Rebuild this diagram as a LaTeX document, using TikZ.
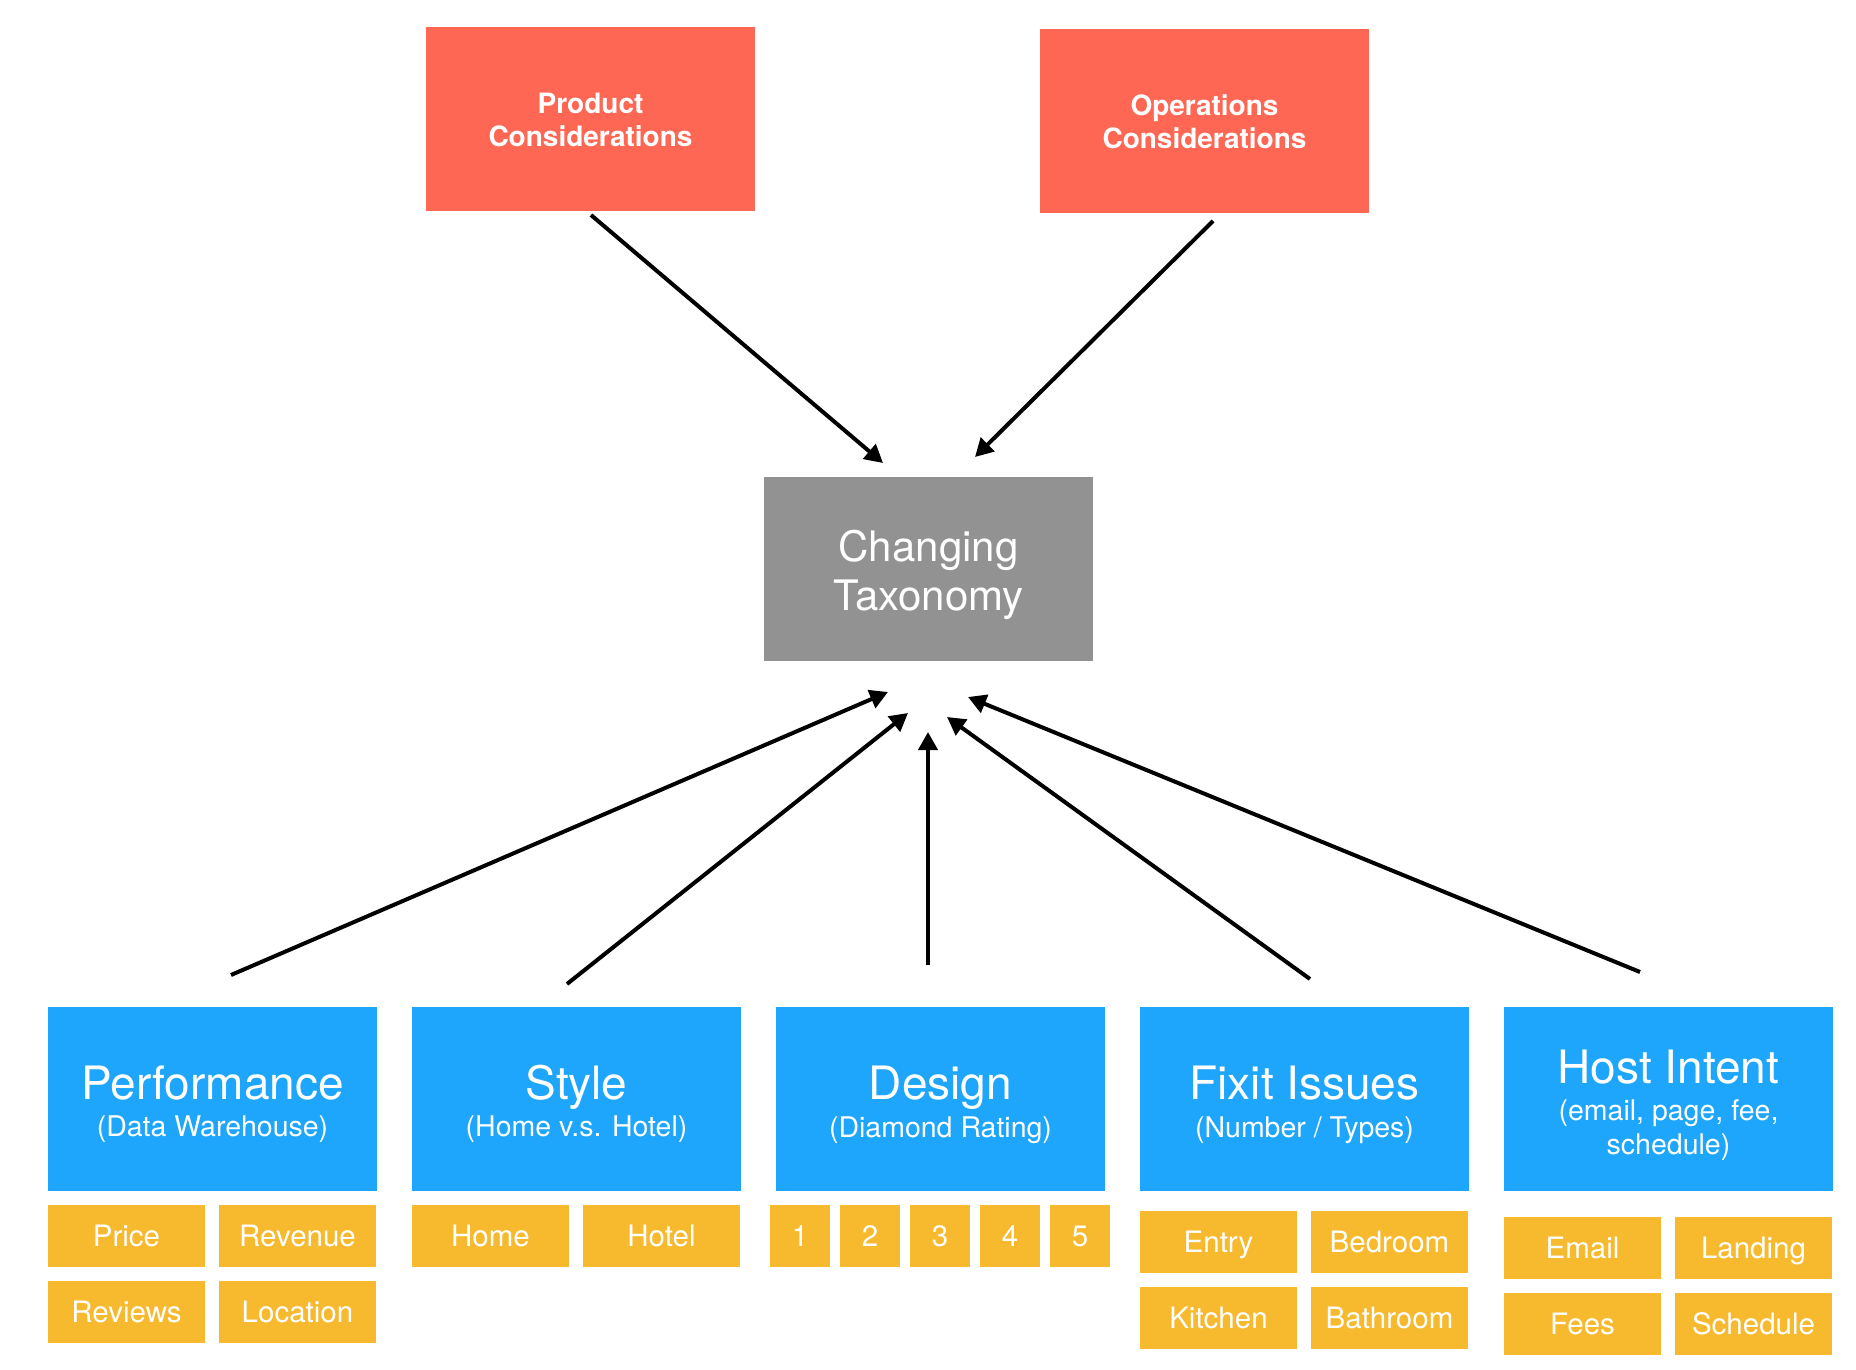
\documentclass[tikz,border=0pt]{standalone}
\usepackage{fontspec}
\setmainfont{TeX Gyre Heros}
\usetikzlibrary{arrows.meta,calc}
\definecolor{redc}{RGB}{255,103,85}
\definecolor{grayc}{RGB}{146,146,146}
\definecolor{bluec}{RGB}{30,165,252}
\definecolor{yelc}{RGB}{247,185,45}
\begin{document}
\begin{tikzpicture}[x=1pt,y=-1pt,
  box/.style={inner sep=0pt, outer sep=0pt, draw=none},
  redbox/.style={box, fill=redc, minimum width=329pt, minimum height=184pt},
  graybox/.style={box, fill=grayc, minimum width=329pt, minimum height=184pt},
  bluebox/.style={box, fill=bluec, minimum width=329pt, minimum height=184pt},
  ybox/.style={box, fill=yelc, minimum width=157pt, minimum height=62pt, text=white,
    font=\fontsize{29.5}{35}\selectfont, text height=21pt, text depth=0pt},
  dbox/.style={ybox, minimum width=60pt},
  txt/.style={anchor=base, inner sep=0pt, text=white},
  redtxt/.style={txt, font=\fontsize{28}{33}\selectfont\bfseries},
  graytxt/.style={txt, font=\fontsize{42}{49}\selectfont},
  titletxt/.style={txt, font=\fontsize{46}{54}\selectfont},
  subtxt/.style={txt, font=\fontsize{28.5}{34}\selectfont},
  arr/.style={line width=4pt, draw=black, -{Triangle[length=18pt,width=19pt]}},
]
\useasboundingbox (0,0) rectangle (1856,1370);

% top boxes
\node[redbox] (prod) at (590.5,119) {};
\node[redtxt] (prod-a) at (590.5,114) {Product};
\node[redtxt] (prod-b) at (590.5,147) {Considerations};
\node[redbox] (ops) at (1204.5,121) {};
\node[redtxt] (ops-a) at (1204.5,116) {Operations};
\node[redtxt] (ops-b) at (1204.5,149) {Considerations};

% center box
\node[graybox] (tax) at (928.5,569) {};
\node[graytxt] (tax-a) at (928.5,561) {Changing};
\node[graytxt] (tax-b) at (928.5,610) {Taxonomy};

% blue boxes
\node[bluebox] (perf) at (212.5,1099) {};
\node[titletxt] (perf-t) at (212.5,1099) {Performance};
\node[subtxt] (perf-s) at (212.5,1136) {(Data Warehouse)};
\node[bluebox] (style) at (576.5,1099) {};
\node[titletxt] (style-t) at (576.5,1099) {Style};
\node[subtxt] (style-s) at (576.5,1136) {(Home v.s. Hotel)};
\node[bluebox] (design) at (940.5,1099) {};
\node[titletxt] (design-t) at (940.5,1099) {Design};
\node[subtxt] (design-s) at (940.5,1137) {(Diamond Rating)};
\node[bluebox] (fixit) at (1304.5,1099) {};
\node[titletxt] (fixit-t) at (1304.5,1099) {Fixit Issues};
\node[subtxt] (fixit-s) at (1304.5,1137) {(Number / Types)};
\node[bluebox] (host) at (1668.5,1099) {};
\node[titletxt] (host-t) at (1668.5,1083) {Host Intent};
\node[subtxt] (host-s1) at (1668.5,1120) {(email, page, fee,};
\node[subtxt] (host-s2) at (1668.5,1154) {schedule)};

% yellow boxes
\node[ybox] (price) at (126.5,1236) {Price};
\node[ybox] (revenue) at (297.5,1236) {Revenue};
\node[ybox] (reviews) at (126.5,1312) {Reviews};
\node[ybox] (location) at (297.5,1312) {Location};

\node[ybox] (home) at (490.5,1236) {Home};
\node[ybox] (hotel) at (661.5,1236) {Hotel};

\node[dbox] (d1) at (800,1236) {1};
\node[dbox] (d2) at (870,1236) {2};
\node[dbox] (d3) at (940,1236) {3};
\node[dbox] (d4) at (1010,1236) {4};
\node[dbox] (d5) at (1080,1236) {5};

\node[ybox] (entry) at (1218.5,1242) {Entry};
\node[ybox] (bedroom) at (1389.5,1242) {Bedroom};
\node[ybox] (kitchen) at (1218.5,1318) {Kitchen};
\node[ybox] (bathroom) at (1389.5,1318) {Bathroom};

\node[ybox] (email) at (1582.5,1248) {Email};
\node[ybox] (landing) at (1753.5,1248) {Landing};
\node[ybox] (fees) at (1582.5,1324) {Fees};
\node[ybox] (schedule) at (1753.5,1324) {Schedule};

% connector end points
\coordinate (prod-out) at (591,215);
\coordinate (ops-out) at (1213,221);
\coordinate (tax-in1) at (883,463);
\coordinate (tax-in2) at (975,457);
\coordinate (perf-out) at (231,975);
\coordinate (style-out) at (567,984);
\coordinate (design-out) at (928,965);
\coordinate (fixit-out) at (1310,979);
\coordinate (host-out) at (1640,972);
\coordinate (tax-in3) at (888,692);
\coordinate (tax-in4) at (908,713);
\coordinate (tax-in5) at (928,732);
\coordinate (tax-in6) at (947,717);
\coordinate (tax-in7) at (968,697);

\draw[arr] (prod-out) -- (tax-in1);
\draw[arr] (ops-out) -- (tax-in2);
\draw[arr] (perf-out) -- (tax-in3);
\draw[arr] (style-out) -- (tax-in4);
\draw[arr] (design-out) -- (tax-in5);
\draw[arr] (fixit-out) -- (tax-in6);
\draw[arr] (host-out) -- (tax-in7);
\end{tikzpicture}
\end{document}
